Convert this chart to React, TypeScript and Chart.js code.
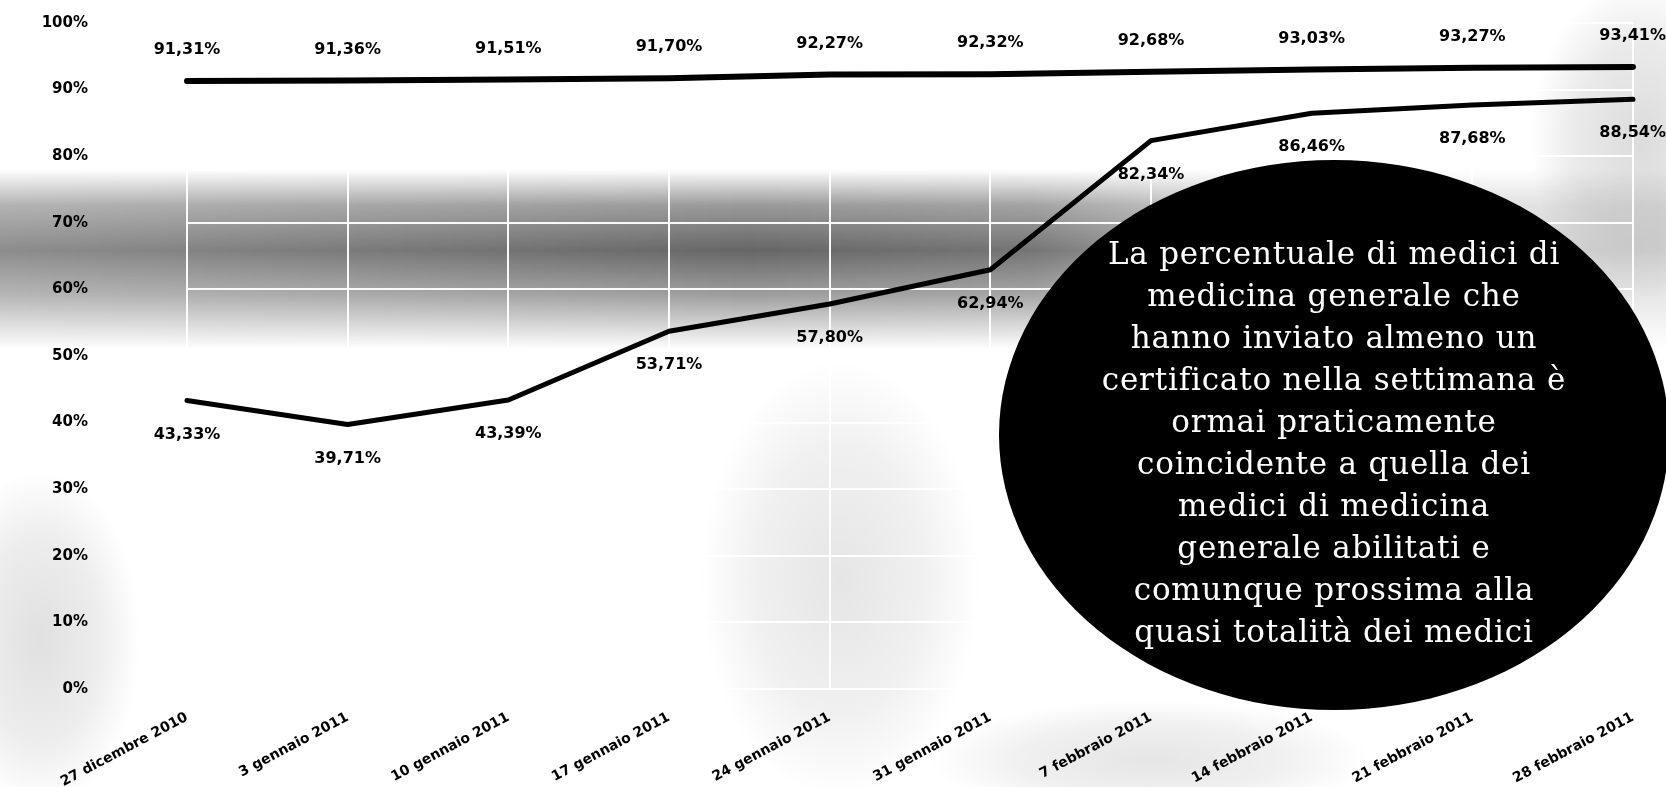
import React, { useEffect, useRef } from "react";
import { Chart, registerables } from "chart.js";

Chart.register(...registerables);

const categories = [
  "27 dicembre 2010",
  "3 gennaio 2011",
  "10 gennaio 2011",
  "17 gennaio 2011",
  "24 gennaio 2011",
  "31 gennaio 2011",
  "7 febbraio 2011",
  "14 febbraio 2011",
  "21 febbraio 2011",
  "28 febbraio 2011",
];

// % medici di medicina generale abilitati
const abilitati = [91.31, 91.36, 91.51, 91.7, 92.27, 92.32, 92.68, 93.03, 93.27, 93.41];
// % medici che hanno inviato almeno un certificato nella settimana
const inviato = [43.33, 39.71, 43.39, 53.71, 57.8, 62.94, 82.34, 86.46, 87.68, 88.54];

const yMin = 0;
const yMax = 100;
const yStep = 10;

const noteLines = [
  "La percentuale di medici di",
  "medicina generale che",
  "hanno inviato almeno un",
  "certificato nella settimana è",
  "ormai praticamente",
  "coincidente a quella dei",
  "medici di medicina",
  "generale abilitati e",
  "comunque prossima alla",
  "quasi totalità dei medici",
];

const fmt = (v: number) => v.toFixed(2).replace(".", ",") + "%";

const bgPlugin = {
  id: "scanBg",
  beforeDraw(chart: any) {
    const { ctx, width, height } = chart;
    const y = chart.scales.y;
    ctx.save();
    ctx.fillStyle = "#ffffff";
    ctx.fillRect(0, 0, width, height);

    // faint grey patches of the scan
    const blob = (cx: number, cy: number, rx: number, ry: number, a: number) => {
      ctx.save();
      ctx.translate(cx, cy);
      ctx.scale(rx, ry);
      const rg = ctx.createRadialGradient(0, 0, 0, 0, 0, 1);
      rg.addColorStop(0, `rgba(0,0,0,${a})`);
      rg.addColorStop(0.6, `rgba(0,0,0,${a * 0.6})`);
      rg.addColorStop(1, "rgba(0,0,0,0)");
      ctx.fillStyle = rg;
      ctx.beginPath();
      ctx.arc(0, 0, 1, 0, Math.PI * 2);
      ctx.fill();
      ctx.restore();
    };
    blob(40, 640, 100, 170, 0.12);
    blob(840, 580, 140, 220, 0.1);
    blob(1640, 140, 110, 160, 0.14);
    blob(1150, 760, 220, 60, 0.1);

    const top = y.getPixelForValue(78);
    const bottom = y.getPixelForValue(51);
    const off = document.createElement("canvas");
    off.width = width;
    off.height = height;
    const o = off.getContext("2d") as CanvasRenderingContext2D;
    const g = o.createLinearGradient(0, top, 0, bottom);
    g.addColorStop(0, "rgba(0,0,0,0)");
    g.addColorStop(0.2, "rgba(0,0,0,0.4)");
    g.addColorStop(0.45, "rgba(0,0,0,0.6)");
    g.addColorStop(0.7, "rgba(0,0,0,0.38)");
    g.addColorStop(1, "rgba(0,0,0,0)");
    o.fillStyle = g;
    o.fillRect(0, top, width, bottom - top);
    o.globalCompositeOperation = "destination-in";
    const h = o.createLinearGradient(0, 0, width, 0);
    h.addColorStop(0, "rgba(0,0,0,0.75)");
    h.addColorStop(0.45, "rgba(0,0,0,1)");
    h.addColorStop(0.62, "rgba(0,0,0,0.9)");
    h.addColorStop(0.8, "rgba(0,0,0,0.35)");
    h.addColorStop(1, "rgba(0,0,0,0.25)");
    o.fillStyle = h;
    o.fillRect(0, 0, width, height);
    ctx.drawImage(off, 0, 0);
    ctx.restore();
  },
};

const labelPlugin = {
  id: "valueLabels",
  afterDatasetsDraw(chart: any) {
    const { ctx, width } = chart;
    ctx.save();
    ctx.font = 'bold 16px "DejaVu Sans"';
    ctx.fillStyle = "#000";
    ctx.textBaseline = "middle";
    ctx.textAlign = "center";
    chart.data.datasets.forEach((ds: any, di: number) => {
      const meta = chart.getDatasetMeta(di);
      const above = di === 0;
      meta.data.forEach((pt: any, i: number) => {
        const text = fmt(ds.data[i]);
        const w = ctx.measureText(text).width;
        let x = pt.x;
        if (x + w / 2 > width) x = width - w / 2;
        const yy = above ? pt.y - 31 : pt.y + 34;
        ctx.fillText(text, x, yy);
      });
    });
    ctx.restore();
  },
};

const notePlugin = {
  id: "note",
  afterDraw(chart: any) {
    const { ctx } = chart;
    const cx = 1334;
    const cy = 435;
    ctx.save();
    ctx.beginPath();
    ctx.ellipse(cx, cy, 335, 275, 0, 0, Math.PI * 2);
    ctx.fillStyle = "#000";
    ctx.fill();
    ctx.fillStyle = "#fff";
    ctx.font = '31px "DejaVu Serif"';
    (ctx as any).letterSpacing = "0.8px";
    ctx.textAlign = "center";
    ctx.textBaseline = "middle";
    const lh = 42;
    const start = 256;
    noteLines.forEach((line, i) => ctx.fillText(line, cx, start + i * lh));
    ctx.restore();
  },
};

export default function App() {
  const ref = useRef<HTMLCanvasElement | null>(null);

  useEffect(() => {
    if (!ref.current) return;
    const chart = new Chart(ref.current, {
      type: "line",
      data: {
        labels: categories,
        datasets: [
          {
            label: "abilitati",
            data: abilitati,
            borderColor: "#000",
            borderWidth: 6,
            pointRadius: 0,
            tension: 0,
            borderCapStyle: "round",
            borderJoinStyle: "round",
            clip: false,
          },
          {
            label: "inviato",
            data: inviato,
            borderColor: "#000",
            borderWidth: 5,
            pointRadius: 0,
            tension: 0,
            borderCapStyle: "round",
            borderJoinStyle: "round",
            clip: false,
          },
        ],
      },
      options: {
        animation: false,
        responsive: true,
        maintainAspectRatio: false,
        layout: { padding: { top: 23, right: 33, left: 0, bottom: 0 } },
        plugins: { legend: { display: false }, tooltip: { enabled: false } },
        scales: {
          x: {
            type: "category",
            offset: false,
            grid: { color: "rgba(255,255,255,0.95)", lineWidth: 2, drawTicks: false },
            border: { display: false },
            ticks: {
              autoSkip: false,
              maxRotation: 28,
              minRotation: 28,
              padding: 20,
              color: "#000",
              font: { family: "DejaVu Sans", weight: "bold", size: 14 },
            },
            afterFit: (s: any) => {
              s.height = 98;
              s.paddingLeft = 0;
              s.paddingRight = 0;
            },
          },
          y: {
            min: yMin,
            max: yMax,
            grid: { color: "rgba(255,255,255,0.95)", lineWidth: 2, drawTicks: false },
            border: { display: false },
            ticks: {
              stepSize: yStep,
              padding: 99,
              color: "#000",
              font: { family: "DejaVu Sans", weight: "bold", size: 15 },
              callback: (v: any) => v + "%",
            },
            afterFit: (s: any) => {
              s.width = 187;
              s.paddingTop = 8;
              s.paddingBottom = 8;
            },
          },
        },
      },
      plugins: [bgPlugin, labelPlugin, notePlugin],
    });
    return () => chart.destroy();
  }, []);

  return (
    <div style={{ position: "fixed", left: 0, top: 0, width: 1666, height: 787, background: "#fff" }}>
      <canvas ref={ref} />
    </div>
  );
}
